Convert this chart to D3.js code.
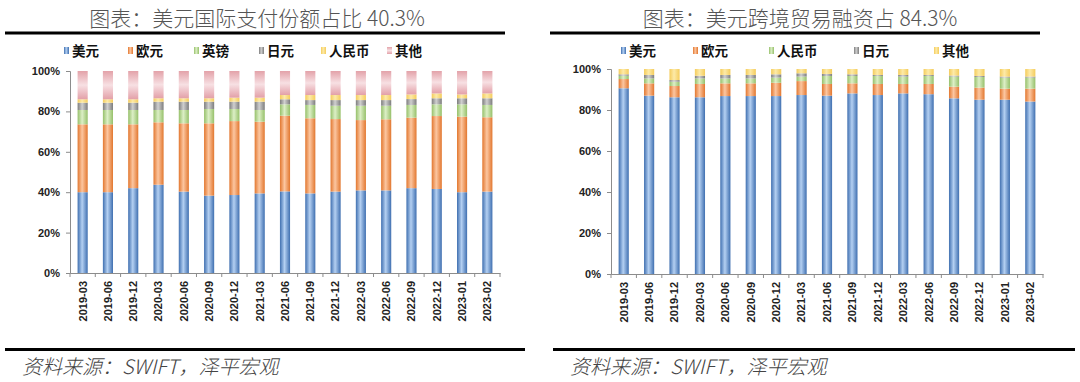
<!DOCTYPE html>
<html><head><meta charset="utf-8">
<script src="https://cdn.jsdelivr.net/npm/d3@7/dist/d3.min.js"></script>
<style>
html,body{margin:0;padding:0;background:#fff;}
svg{display:block;}
</style></head>
<body><svg id="c" width="1080" height="382"></svg>
<script>
const categories = ["2019-03","2019-06","2019-12","2020-03","2020-06","2020-09","2020-12","2021-03","2021-06","2021-09","2021-12","2022-03","2022-06","2022-09","2022-12","2023-01","2023-02"];
const yTicks = [0,0.2,0.4,0.6,0.8,1.0];

// Left chart: international payments share (%)
const payUSD   = [40.0,40.0,42.0,43.7,40.3,38.3,38.6,39.4,40.4,39.4,40.3,40.9,40.9,42.0,41.6,40.0,40.3];
const payEUR   = [33.6,33.6,31.6,30.9,33.8,35.8,36.6,35.5,37.5,37.2,35.9,34.8,35.2,34.9,36.1,37.4,36.8];
const payGBP   = [7.1,7.1,7.1,6.1,6.6,7.1,6.0,5.8,5.6,6.6,6.6,7.1,6.7,6.3,5.8,6.1,6.1];
const payJPY   = [3.6,3.6,3.6,4.1,4.1,3.6,3.6,4.1,2.5,2.4,2.8,2.8,2.8,2.9,3.0,3.0,3.3];
const payCNY   = [1.7,1.7,1.7,1.7,1.7,1.7,2.0,2.0,2.1,2.5,2.5,2.5,2.5,2.3,2.4,1.9,2.4];
const payOther = [14.0,14.0,14.0,13.5,13.5,13.5,13.2,13.2,11.9,11.9,11.9,11.9,11.9,11.6,11.1,11.6,11.1];

// Right chart: trade finance share (%)
const finUSD   = [90.6,87.0,86.2,86.2,86.8,86.8,86.8,87.3,87.0,88.1,87.3,88.1,87.7,85.7,85.2,85.2,84.3];
const finEUR   = [4.5,6.0,5.5,6.5,6.2,6.2,6.5,6.8,5.7,4.9,5.4,4.6,5.0,5.7,5.9,5.4,6.3];
const finCNY   = [1.6,2.4,2.1,2.7,2.4,2.4,2.5,2.2,3.9,3.6,3.9,3.6,3.9,4.9,5.2,5.4,5.4];
const finJPY   = [0.7,1.7,0.8,1.3,1.7,1.7,1.6,1.6,1.0,0.8,0.5,0.8,0.5,0.5,0.5,0.5,0.5];
const finOther = [2.6,2.9,5.4,3.3,2.9,2.9,2.6,2.1,2.4,2.6,2.9,2.9,2.9,3.2,3.4,3.7,3.7];

const leftNames  = ["美元","欧元","英镑","日元","人民币","其他"];
const rightNames = ["美元","欧元","人民币","日元","其他"];

const colorSets = {
  "美元":  {dark:"#3f6fb0", light:"#b4d0f2", key:"usd"},
  "欧元":  {dark:"#e2772f", light:"#fcc6a0", key:"eur"},
  "英镑":  {dark:"#96c06a", light:"#dcefc6", key:"gbp"},
  "日元":  {dark:"#7d7d7d", light:"#cfcfcf", key:"jpy"},
  "人民币":{dark:"#f4cc5c", light:"#fdeaa8", key:"cny"},
  "其他":  {dark:"#e0a3aa", light:"#f8e1e4", key:"oth"}
};
const rightColor = {"美元":"美元","欧元":"欧元","人民币":"英镑","日元":"日元","其他":"人民币"};

const svg = d3.select("#c");
const defs = svg.append("defs");
Object.values(colorSets).forEach(c => {
  const g = defs.append("linearGradient").attr("id","g_"+c.key).attr("x1","0").attr("x2","1").attr("y1","0").attr("y2","0");
  g.append("stop").attr("offset","0%").attr("stop-color",c.dark);
  g.append("stop").attr("offset","45%").attr("stop-color",c.light);
  g.append("stop").attr("offset","100%").attr("stop-color",c.dark);
});
const gp = defs.append("linearGradient").attr("id","g_othv").attr("x1","0").attr("x2","0").attr("y1","0").attr("y2","1");
gp.append("stop").attr("offset","0%").attr("stop-color","#e3a2a9");
gp.append("stop").attr("offset","50%").attr("stop-color","#f7e0e3");
gp.append("stop").attr("offset","100%").attr("stop-color","#e3a0a8");

function drawChart(cfg){
  const g = svg.append("g");
  g.append("text").attr("x",cfg.titleX).attr("y",26).attr("text-anchor","middle")
    .attr("font-family","'Noto Sans CJK SC'").attr("font-weight",300).attr("font-size",21).attr("fill","#555")
    .text(cfg.title);
  g.append("line").attr("x1",cfg.ruleX[0]).attr("x2",cfg.ruleX[1]).attr("y1",33).attr("y2",33).attr("stroke","#000").attr("stroke-width",3);
  g.append("line").attr("x1",cfg.footX[0]).attr("x2",cfg.footX[1]).attr("y1",349.5).attr("y2",349.5).attr("stroke","#000").attr("stroke-width",3);
  g.append("text").attr("x",cfg.footX[0]+17).attr("y",374)
    .attr("font-family","'Noto Sans CJK SC'").attr("font-weight",300).attr("font-style","italic").attr("font-size",20).attr("fill","#444")
    .text("资料来源：SWIFT，泽平宏观");

  const x = d3.scaleBand().domain(categories).range(cfg.xr).paddingInner(0.6).paddingOuter(0.3);
  const y = d3.scaleLinear().domain([0,1]).range(cfg.yr);

  const rows = categories.map((c,i) => {
    const r = {cat:c};
    cfg.names.forEach((n,k) => r[n] = cfg.series[k][i]);
    return r;
  });
  const stack = d3.stack().keys(cfg.names).offset(d3.stackOffsetExpand);
  const layers = stack(rows);

  g.selectAll("g.layer").data(layers).join("g").attr("class","layer")
    .attr("fill", d => {
      const cname = cfg.colorMap ? cfg.colorMap[d.key] : d.key;
      if (cname === "其他") return "url(#g_othv)";
      return "url(#g_"+colorSets[cname].key+")";
    })
    .selectAll("rect").data(d => d).join("rect")
    .attr("x", d => x(d.data.cat))
    .attr("width", x.bandwidth())
    .attr("y", d => y(d[1]))
    .attr("height", d => y(d[0]) - y(d[1]));

  const ya = d3.axisLeft(y).tickValues(yTicks).tickFormat(d3.format(".0%")).tickSize(4).tickPadding(6);
  const yg = g.append("g").attr("transform",`translate(${cfg.xr[0]},0)`).call(ya);
  yg.select(".domain").attr("stroke","#8c8c8c");
  yg.selectAll(".tick line").attr("stroke","#8c8c8c");
  yg.selectAll("text").attr("font-family","'Liberation Sans',Arial,sans-serif").attr("font-weight","bold").attr("font-size",11).attr("fill","#222");

  const xa = d3.axisBottom(x).tickSize(0).tickPadding(0);
  const xg = g.append("g").attr("transform",`translate(0,${cfg.yr[0]})`).call(xa);
  xg.select(".domain").attr("stroke","#8c8c8c");
  xg.selectAll("text").attr("font-family","'Liberation Sans',Arial,sans-serif").attr("font-weight","bold").attr("font-size",11).attr("fill","#222")
    .attr("transform","rotate(-90)").attr("text-anchor","end").attr("dy","0.35em").attr("x",-8).attr("y",0);
  const bounds = categories.map(c => x(c) - x.step()*x.paddingInner()/2).concat([cfg.xr[1]]);
  bounds[0] = cfg.xr[0];
  xg.selectAll("line.bt").data(bounds).join("line").attr("class","bt")
    .attr("x1", d=>d).attr("x2", d=>d).attr("y1",0).attr("y2",4).attr("stroke","#8c8c8c");

  const lg = g.append("g");
  cfg.names.forEach((n,k) => {
    const cname = cfg.colorMap ? cfg.colorMap[n] : n;
    const lx = cfg.legendX[k];
    lg.append("rect").attr("x",lx).attr("y",47).attr("width",5).attr("height",7)
      .attr("fill", cname === "其他" ? "url(#g_othv)" : "url(#g_"+colorSets[cname].key+")");
    lg.append("text").attr("x",lx+8).attr("y",55.5)
      .attr("font-family","'Noto Sans CJK SC'").attr("font-weight","bold").attr("font-size",13.5).attr("fill","#111")
      .text(n);
  });
}

drawChart({
  title:"图表：美元国际支付份额占比 40.3%", titleX:257, ruleX:[5,505], footX:[5,525],
  xr:[70,500], yr:[273,71],
  names:leftNames, series:[payUSD,payEUR,payGBP,payJPY,payCNY,payOther],
  legendX:[64,128,194,259,321,387]
});
drawChart({
  title:"图表：美元跨境贸易融资占 84.3%", titleX:800, ruleX:[550,1040], footX:[553,1075],
  xr:[611,1043], yr:[274,69],
  names:rightNames, series:[finUSD,finEUR,finCNY,finJPY,finOther], colorMap:rightColor,
  legendX:[621,693,769,854,934]
});
</script></body></html>
